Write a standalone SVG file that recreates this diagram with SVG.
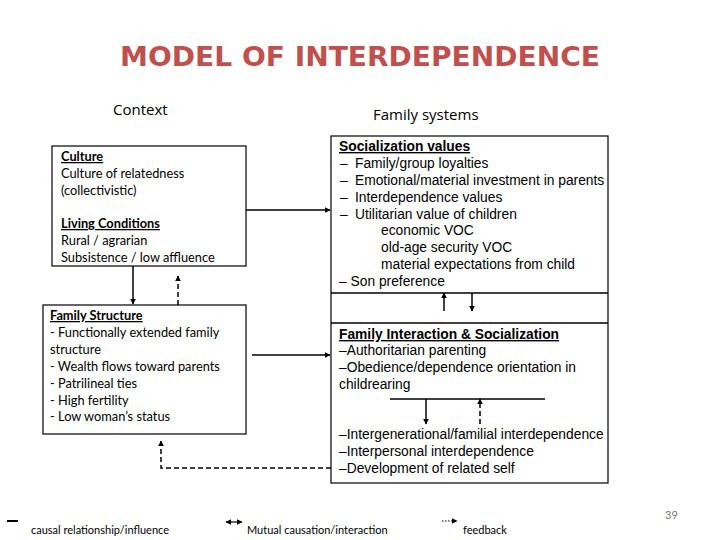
<svg xmlns="http://www.w3.org/2000/svg" width="720" height="540" viewBox="0 0 720 540">
<defs>
<style>
.box{fill:#fff;stroke:#000;stroke-width:1.2}
.ln{stroke:#000;stroke-width:1.5;fill:none}
.dash{stroke:#000;stroke-width:1.5;fill:none;stroke-dasharray:5,3}
.cal{font-family:Lato,"Open Sans",sans-serif;font-size:12.8px;fill:#000}
.ari{font-family:"Liberation Sans",Arial,sans-serif;font-size:13.8px;fill:#000}
.hd{font-family:"Open Sans","DejaVu Sans",sans-serif;font-size:15px;fill:#000}
.leg{font-family:Lato,"Open Sans",sans-serif;font-size:11px;fill:#000}
.u{text-decoration:underline;font-weight:bold}
</style>
<marker id="ah" viewBox="0 0 10 10" refX="9" refY="5" markerWidth="6" markerHeight="6" orient="auto-start-reverse" markerUnits="userSpaceOnUse">
<path d="M0,0 L10,5 L0,10 z" fill="#000"/>
</marker>
</defs>
<rect width="720" height="540" fill="#fff"/>
<text x="360" y="66" text-anchor="middle" font-family="'DejaVu Sans',Verdana,sans-serif" font-weight="bold" font-size="26" fill="#C0504D" textLength="480" lengthAdjust="spacingAndGlyphs">MODEL OF INTERDEPENDENCE</text>
<text class="hd" x="113" y="115">Context</text>
<text class="hd" x="373" y="120">Family systems</text>

<g id="context">
<rect class="box" x="52" y="146" width="194" height="120"/>
<text class="cal" x="61" y="161"><tspan class="u">Culture</tspan></text>
<text class="cal" x="61" y="178">Culture of relatedness</text>
<text class="cal" x="61" y="195">(collectivistic)</text>
<text class="cal" x="61" y="228"><tspan class="u">Living Conditions</tspan></text>
<text class="cal" x="61" y="245">Rural / agrarian</text>
<text class="cal" x="61" y="262">Subsistence / low affluence</text>
</g>

<g id="family-structure">
<rect class="box" x="43" y="305" width="203" height="129"/>
<text class="cal" x="50" y="320"><tspan class="u">Family Structure</tspan></text>
<text class="cal" x="50" y="337">- Functionally extended family</text>
<text class="cal" x="50" y="354">structure</text>
<text class="cal" x="50" y="371">- Wealth flows toward parents</text>
<text class="cal" x="50" y="388">- Patrilineal ties</text>
<text class="cal" x="50" y="405">- High fertility</text>
<text class="cal" x="50" y="421">- Low woman’s status</text>
</g>

<g id="family-systems">
<rect class="box" x="331" y="136" width="277" height="347"/>
<line class="ln" x1="331" y1="293" x2="608" y2="293" stroke-width="1.2"/>
<line class="ln" x1="331" y1="323" x2="608" y2="323" stroke-width="1.2"/>
</g>

<g id="socialization-values">
<text class="ari" x="339" y="151"><tspan class="u">Socialization values</tspan></text>
<text class="ari" x="340" y="168">–</text><text class="ari" x="355" y="168">Family/group loyalties</text>
<text class="ari" x="340" y="185">–</text><text class="ari" x="355" y="185">Emotional/material investment in parents</text>
<text class="ari" x="340" y="202">–</text><text class="ari" x="355" y="202">Interdependence values</text>
<text class="ari" x="340" y="219">–</text><text class="ari" x="355" y="219">Utilitarian value of children</text>
<text class="ari" x="381" y="235">economic VOC</text>
<text class="ari" x="381" y="252">old-age security VOC</text>
<text class="ari" x="381" y="269">material expectations from child</text>
<text class="ari" x="339" y="286">– Son preference</text>
</g>

<g id="family-interaction">
<text class="ari" x="339" y="339"><tspan class="u">Family Interaction &amp; Socialization</tspan></text>
<text class="ari" x="339" y="355">–Authoritarian parenting</text>
<text class="ari" x="339" y="372">–Obedience/dependence orientation in</text>
<text class="ari" x="339" y="389">childrearing</text>
<line class="ln" x1="390" y1="399" x2="545" y2="399" stroke-width="1.2"/>
</g>

<g id="outcomes">
<text class="ari" x="339" y="439">–Intergenerational/familial interdependence</text>
<text class="ari" x="339" y="456">–Interpersonal interdependence</text>
<text class="ari" x="339" y="473">–Development of related self</text>
</g>

<g id="connectors">
<line class="ln" x1="246" y1="210" x2="330" y2="210" marker-end="url(#ah)"/>
<line class="ln" x1="252" y1="355" x2="330" y2="355" marker-end="url(#ah)"/>
<line class="ln" x1="133" y1="266" x2="133" y2="304" marker-end="url(#ah)"/>
<line class="dash" x1="178" y1="305" x2="178" y2="276" marker-end="url(#ah)"/>
<line class="ln" x1="444" y1="311" x2="444" y2="293" marker-end="url(#ah)"/>
<line class="ln" x1="472" y1="293" x2="472" y2="311" marker-end="url(#ah)"/>
<line class="ln" x1="426" y1="399" x2="426" y2="424" marker-end="url(#ah)"/>
<line class="dash" x1="480" y1="424" x2="480" y2="399" marker-end="url(#ah)"/>
<polyline class="dash" points="331,468 161,468 161,441" marker-end="url(#ah)"/>
</g>

<g id="legend">
<line x1="7" y1="521" x2="18" y2="521" stroke="#000" stroke-width="2"/>
<text class="leg" x="31" y="534">causal relationship/influence</text>
<line x1="226" y1="522" x2="242" y2="522" stroke="#000" stroke-width="1.2" marker-start="url(#ah)" marker-end="url(#ah)"/>
<text class="leg" x="247" y="534">Mutual causation/interaction</text>
<line x1="442" y1="521" x2="457" y2="521" stroke="#000" stroke-width="1.2" stroke-dasharray="1.5,1.5" marker-end="url(#ah)"/>
<text class="leg" x="463" y="534">feedback</text>
<text x="665" y="519" font-family="Lato,sans-serif" font-size="11" fill="#777">39</text>
</g>
</svg>
